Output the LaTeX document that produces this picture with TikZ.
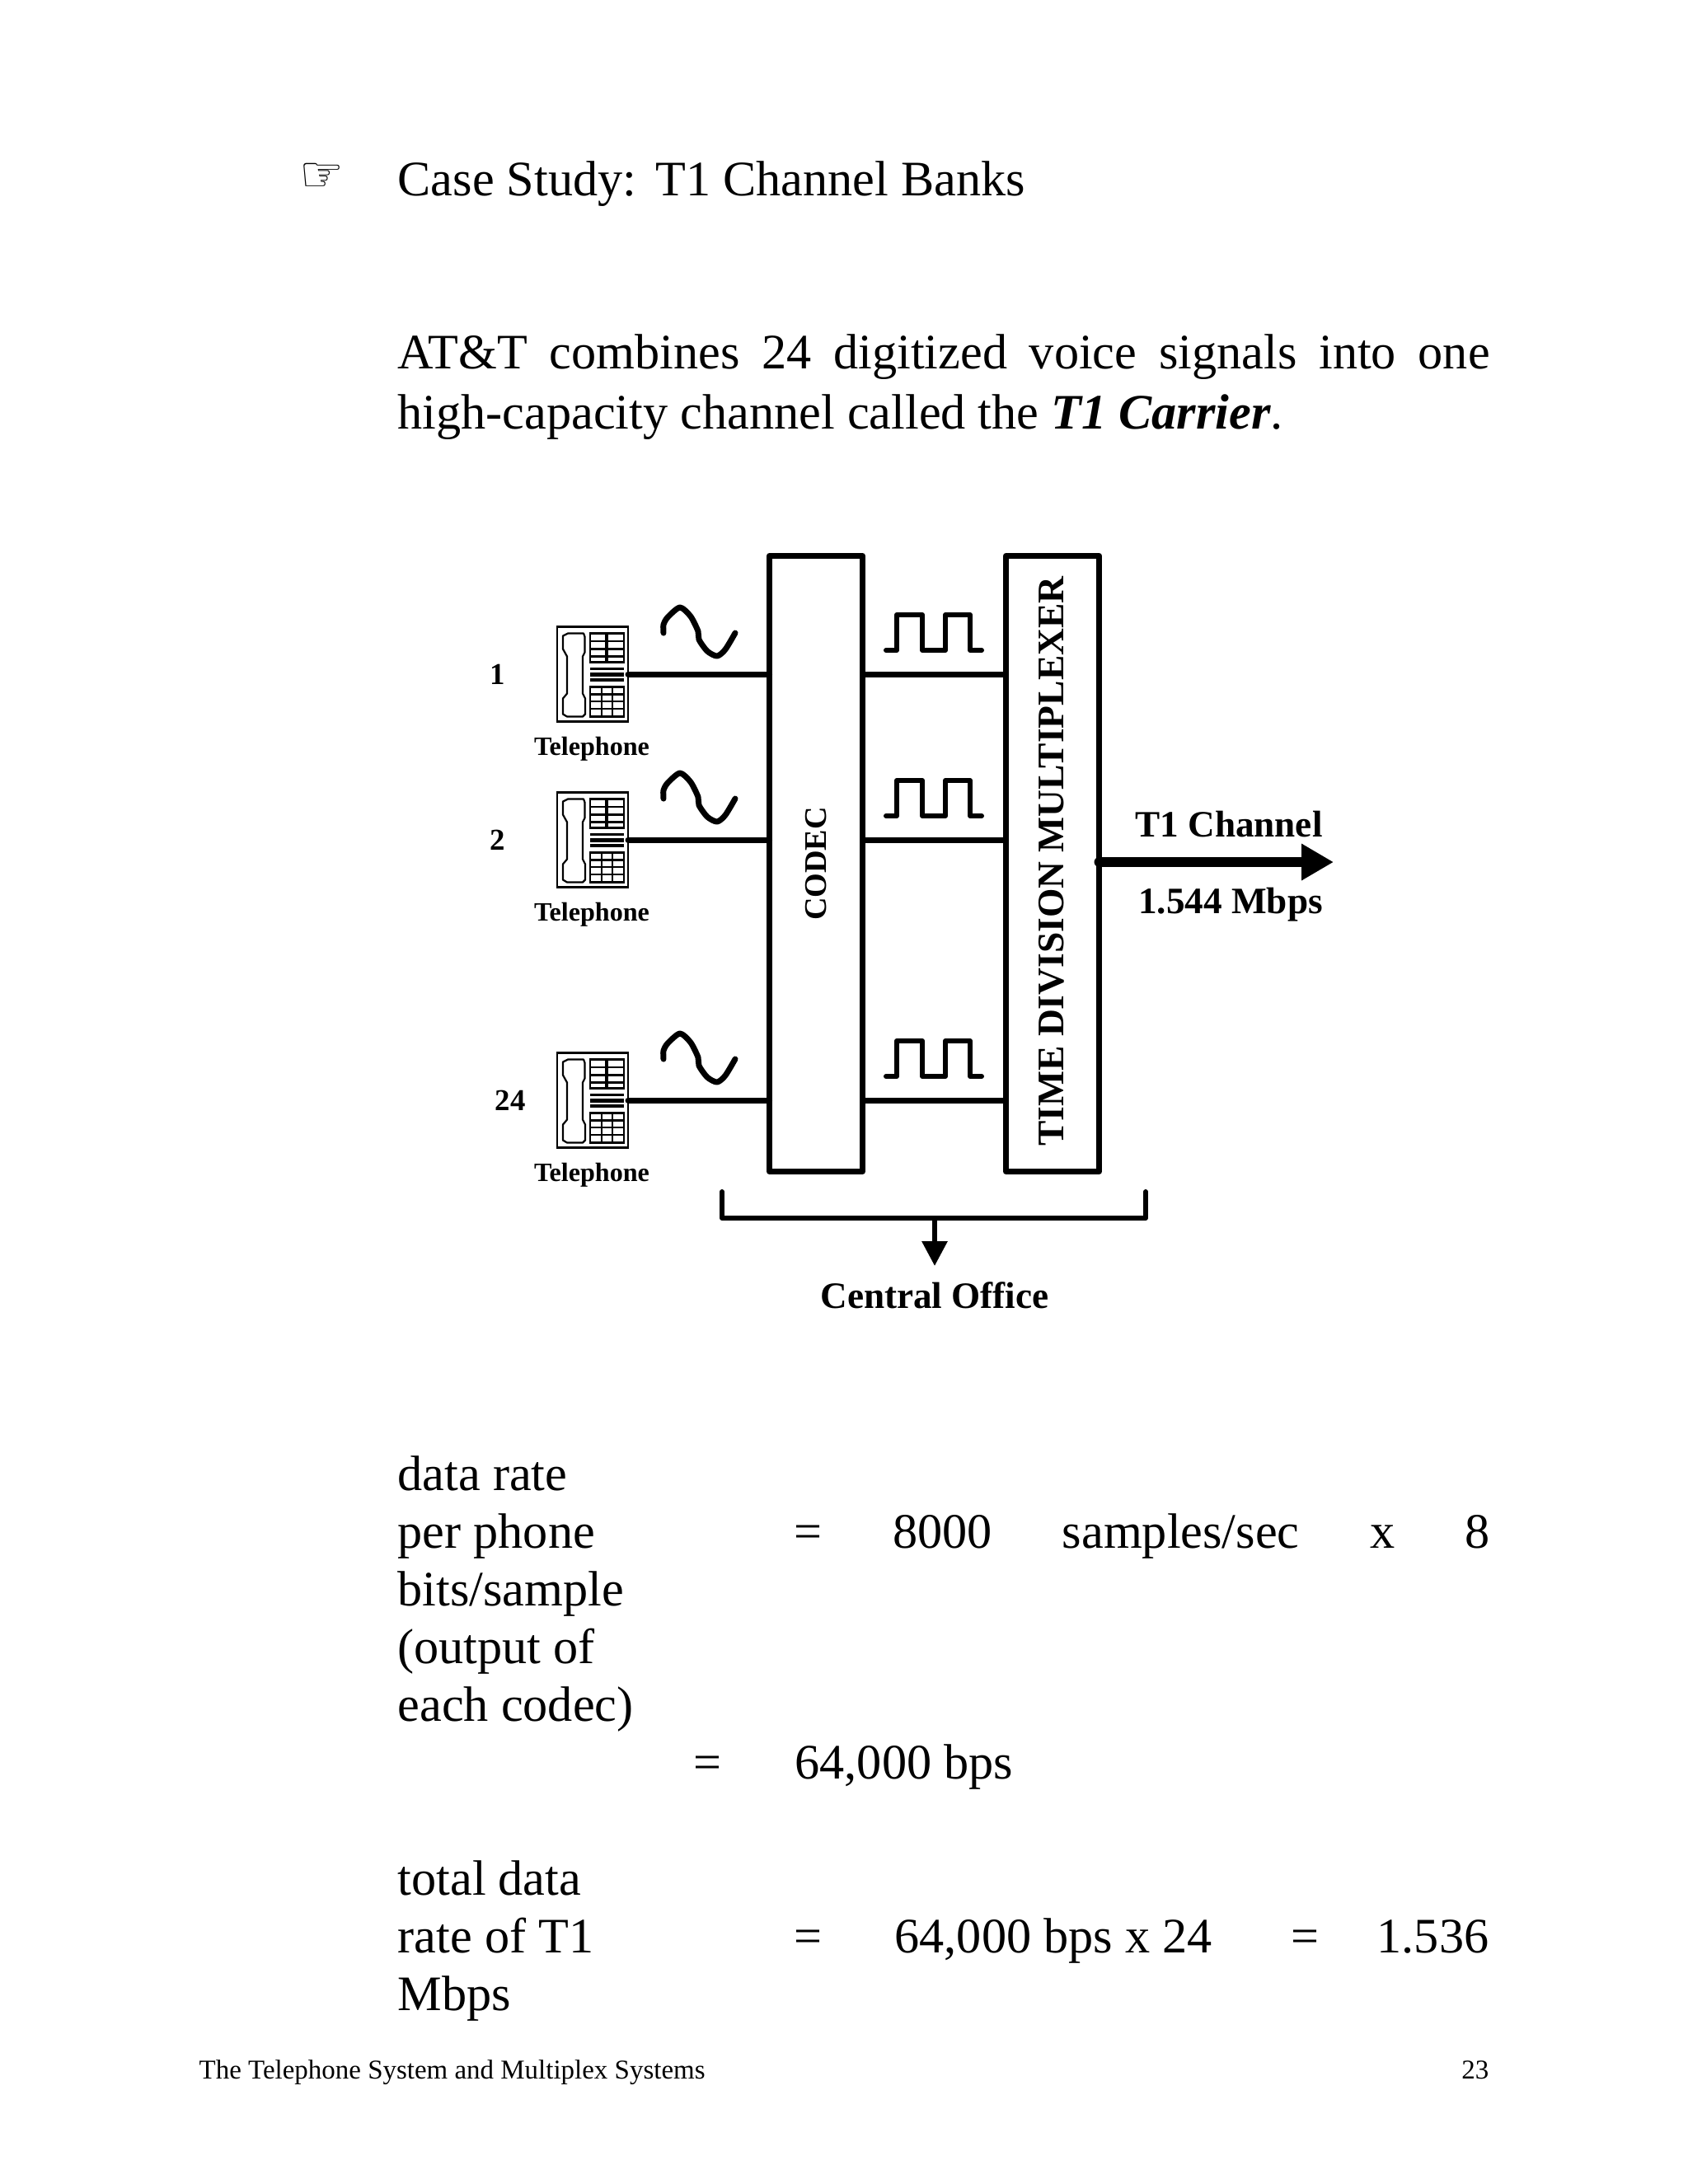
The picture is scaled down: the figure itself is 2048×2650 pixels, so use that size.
\documentclass[tikz,border=0pt]{standalone}
\usepackage{fontspec}
\setmainfont{Liberation Serif}
\newfontfamily\dejavu{DejaVu Sans}
\usetikzlibrary{arrows.meta}
\def\u{0.2988pt}
\newcommand{\body}{\fontsize{18}{22}\selectfont}
\newcommand{\cardrow}[4]{%
  \node[phonebox] (phone#1) at (719,#2) {};
  \begin{scope}[shift={(phone#1.north west)},x=0.2988pt,y=-0.2988pt]
    \draw[phonedetail,line join=round] (13,8)--(32,8)--(33.5,12)--(33.5,31)--(31,36)--(31,81)--(34,87)--(34,106)--(31,109)--(12,109)--(7,106)--(7,87)--(12,81)--(12,36)--(7,27)--(7,11)--cycle;
    \draw[phonedetail] (40,8) rectangle (81,43);
    \draw[phonedetail] (40,73) rectangle (81,109);
    \foreach \yy in {17.5,27,36}{\draw[phonedetail] (40,\yy)--(81,\yy);}
    \foreach \yy in {82,90.5,99.5}{\draw[phonedetail] (40,\yy)--(81,\yy);}
    \draw[line width=4*\u] (59.5,8)--(59.5,43);
    \draw[phonedetail] (54,73)--(54,109) (67,73)--(67,109);
    \draw[phonedetail] (40,51)--(81,51) (40,65)--(81,65);
    \draw[line width=4.5*\u] (40,58)--(81,58);
    \draw[line width=4.5*\u] (40,64.6)--(81,64.6);
  \end{scope}
  \node[labelsmall] (tel#1) at (718,#2+91) {Telephone};
  \node[labelnum] (num#1) at (#3,#2) {#4};
  \draw[wire] (phone#1.east) -- (phone#1.east -| codec.west);
  \draw[wire] (phone#1.east -| codec.east) -- (phone#1.east -| tdm.west);
  \begin{scope}[shift={(phone#1.east)},x=0.2988pt,y=-0.2988pt]
    \draw[squiggle] plot[smooth,tension=0.45] coordinates {(43,-50)(43,-60)(48,-69)(63,-81)(76,-70)(85,-52)(86,-42)(96,-28)(108,-22)(118,-30)(130,-50)};
    \draw[pulse] (313,-29)--(326,-29)--(326,-72)--(357,-72)--(357,-29)--(385,-29)--(385,-72)--(415,-72)--(415,-29)--(429,-29);
  \end{scope}
}
\tikzset{
  x=0.2988pt,y=-0.2988pt,
  bigbox/.style={draw,line width=7*\u,rectangle,inner sep=0pt,outer sep=0pt,line join=round},
  phonebox/.style={draw,line width=2.2*\u,rectangle,inner sep=0pt,outer sep=0pt,minimum width=86*\u,minimum height=115*\u},
  phonedetail/.style={line width=2.2*\u},
  wire/.style={line width=7*\u,line cap=round},
  squiggle/.style={line width=7*\u,line cap=round,line join=round},
  pulse/.style={line width=6*\u,line cap=round,line join=round},
  labelsmall/.style={inner sep=0pt,font=\fontsize{9.6}{11}\selectfont\bfseries},
  labelnum/.style={inner sep=0pt,font=\fontsize{11}{13}\selectfont\bfseries},
  labelbig/.style={inner sep=0pt,font=\fontsize{13.5}{16}\selectfont\bfseries},
  bodytext/.style={inner sep=0pt,anchor=base west,font=\body},
  foot/.style={inner sep=0pt,font=\fontsize{9.85}{12}\selectfont},
}
\begin{document}
\begin{tikzpicture}
\useasboundingbox (0,0) rectangle (2048,2650);
\node[anchor=base west,inner sep=0pt,font=\dejavu\fontsize{18}{22}\selectfont] (hand) at (363,232) {☞};
\node[bodytext] (title) at (482,237) {Case Study:\ \hspace{2.5pt}T1 Channel Banks};
\node[bodytext] (p1) at (482,447) {\makebox[1325\dimexpr\u\relax][s]{AT\&T combines 24 digitized voice signals into one}};
\node[bodytext] (p2) at (482,520) {high-capacity channel called the \textbf{\textit{T1 Carrier}}.};

\node[bigbox,minimum width=113*\u,minimum height=747*\u] (codec) at (990,1048) {};
\node[bigbox,minimum width=113*\u,minimum height=747*\u] (tdm) at (1277,1048) {};
\node[inner sep=0pt,rotate=90,font=\fontsize{11.4}{14}\selectfont\bfseries] (codectxt) at (990,1048) {CODEC};
\node[inner sep=0pt,rotate=90,font=\fontsize{13.6}{16}\selectfont\bfseries] (tdmtxt) at (1276,1045) {TIME DIVISION MULTIPLEXER};

\cardrow{1}{818}{604}{1}
\cardrow{2}{1019}{604}{2}
\cardrow{24}{1335}{619}{24}

\coordinate (t1end) at (1618,1046);
\draw[line width=12*\u,line cap=round,-{Triangle[length=39*\u,width=42*\u]}] (tdm.east |- t1end) -- (t1end);
\node[labelbig] (t1lab) at (1491,1000) {T1 Channel};
\node[labelbig] (t1rate) at (1493,1098) {1.544 Mbps};

\coordinate (bl) at (876,1446);
\coordinate (br) at (1390,1446);
\coordinate (bm) at (1134,1478);
\coordinate (cotip) at (1134,1536);
\draw[line width=6*\u,line cap=round,line join=round] (bl) -- (bl |- bm) -- (br |- bm) -- (br);
\draw[line width=6*\u,-{Triangle[length=30*\u,width=30*\u]}] (bm) -- (cotip);
\node[labelbig] (co) at (1134,1572) {Central Office};

\node[bodytext] (d1) at (482,1808) {data rate};
\node[bodytext] (d2) at (482,1878) {per phone};
\node[bodytext] (d2b) at (963,1878) {\makebox[844\dimexpr\u\relax][s]{= 8000 samples/sec x 8}};
\node[bodytext] (d3) at (482,1948) {bits/sample};
\node[bodytext] (d4) at (482,2018) {(output of};
\node[bodytext] (d5) at (482,2088) {each codec)};
\node[bodytext] (d6) at (841,2158) {=};
\node[bodytext] (d6b) at (964,2158) {64,000 bps};
\node[bodytext] (e1) at (482,2299) {total data};
\node[bodytext] (e2) at (482,2369) {rate of T1};
\node[bodytext] (e2b) at (963,2369) {=};
\node[bodytext] (e2c) at (1085,2369) {64,000 bps x 24};
\node[bodytext] (e2d) at (1566,2369) {=};
\node[bodytext,anchor=base east] (e2e) at (1807,2369) {1.536};
\node[bodytext] (e3) at (482,2439) {Mbps};

\node[foot,anchor=base west] (fl) at (241,2522) {The Telephone System and Multiplex Systems};
\node[foot,anchor=base east] (fr) at (1807,2522) {23};
\end{tikzpicture}
\end{document}
